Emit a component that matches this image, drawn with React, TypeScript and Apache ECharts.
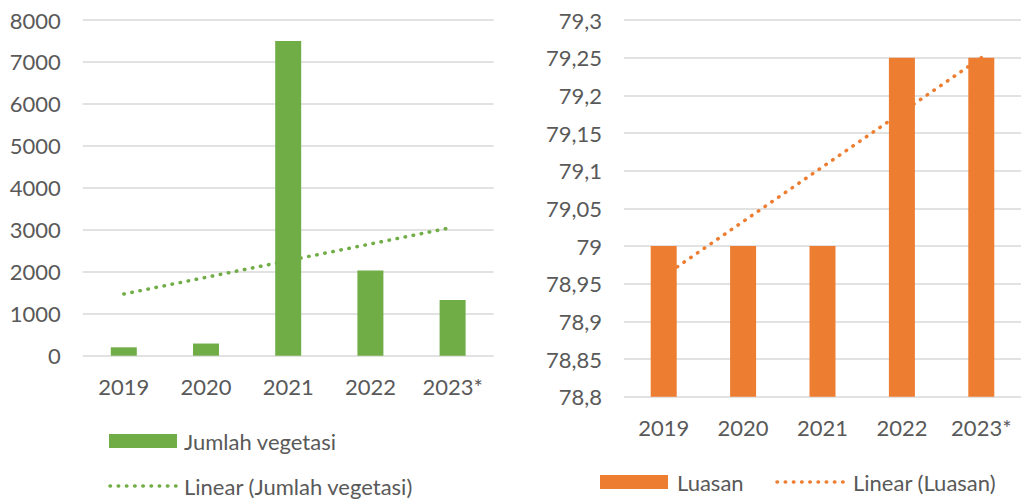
import React, { useEffect, useRef } from "react";
import * as echarts from "echarts";

const categories = ["2019", "2020", "2021", "2022", "2023*"];
const vegetasi = [200, 290, 7500, 2030, 1330];
const vegetasiTrend = [1470, null, null, null, 3060];
const luasan = [79, 79, 79, 79.25, 79.25];
const luasanTrend = [78.96, null, null, null, 79.25];

const GREEN = "#70ad47";
const ORANGE = "#ed7d31";
const TEXT = "#595959";
const GRID = "#d9d9d9";
const FONT = "Lato";
const FS = 22;

export default function App() {
  const ref = useRef<HTMLDivElement>(null);
  useEffect(() => {
    if (!ref.current) return;
    const chart = echarts.init(ref.current, null, { renderer: "svg" });
    const commonX = {
      type: "category",
      data: categories,
      axisLine: { show: false },
      axisTick: { show: false },
      axisLabel: { color: TEXT, fontFamily: FONT, fontSize: FS, margin: 20 },
    };
    const commonY = {
      type: "value",
      axisLine: { show: false },
      axisTick: { show: false },
      splitLine: { lineStyle: { color: GRID, width: 1.5 } },
    };
    chart.setOption({
      animation: false,
      grid: [
        { left: 82.7, right: 527.3, top: 20, bottom: 143.3 },
        { left: 624, right: 0, top: 20, bottom: 102.3 },
      ],
      xAxis: [
        { ...commonX, gridIndex: 0 },
        { ...commonX, gridIndex: 1 },
      ],
      yAxis: [
        {
          ...commonY,
          gridIndex: 0,
          min: 0,
          max: 8000,
          interval: 1000,
          axisLabel: {
            color: TEXT,
            fontFamily: FONT,
            fontSize: FS,
            margin: 22,
            formatter: (v: number) => String(v),
          },
        },
        {
          ...commonY,
          gridIndex: 1,
          min: 78.8,
          max: 79.3,
          interval: 0.05,
          axisLabel: {
            color: TEXT,
            fontFamily: FONT,
            fontSize: FS,
            margin: 22,
            formatter: (v: number) => String(Number(v.toFixed(2))).replace(".", ","),
          },
        },
      ],
      series: [
        {
          name: "Linear (Jumlah vegetasi)",
          type: "line",
          xAxisIndex: 0,
          yAxisIndex: 0,
          data: vegetasiTrend,
          connectNulls: true,
          symbol: "none",
          z: 1,
          lineStyle: { color: GREEN, width: 3.5, type: [0.5, 7.7], cap: "round" },
        },
        {
          name: "Jumlah vegetasi",
          type: "bar",
          xAxisIndex: 0,
          yAxisIndex: 0,
          data: vegetasi,
          barWidth: 26,
          z: 2,
          itemStyle: { color: GREEN },
        },
        {
          name: "Linear (Luasan)",
          type: "line",
          xAxisIndex: 1,
          yAxisIndex: 1,
          data: luasanTrend,
          connectNulls: true,
          symbol: "none",
          z: 1,
          lineStyle: { color: ORANGE, width: 3.5, type: [0.5, 7.7], cap: "round" },
        },
        {
          name: "Luasan",
          type: "bar",
          xAxisIndex: 1,
          yAxisIndex: 1,
          data: luasan,
          barWidth: 26,
          z: 2,
          itemStyle: { color: ORANGE },
        },
      ],
      graphic: [
        { type: "rect", shape: { x: 109, y: 434, width: 68, height: 14 }, style: { fill: GREEN } },
        {
          type: "text",
          x: 184,
          y: 441,
          style: { text: "Jumlah vegetasi", fill: TEXT, font: `${FS}px ${FONT}`, textVerticalAlign: "middle" },
        },
        {
          type: "line",
          shape: { x1: 110, y1: 486, x2: 176, y2: 486 },
          style: { stroke: GREEN, lineWidth: 3.5, lineDash: [0.5, 7.7], lineCap: "round" },
        },
        {
          type: "text",
          x: 184,
          y: 486,
          style: { text: "Linear (Jumlah vegetasi)", fill: TEXT, font: `${FS}px ${FONT}`, textVerticalAlign: "middle" },
        },
        { type: "rect", shape: { x: 600, y: 475, width: 68, height: 14 }, style: { fill: ORANGE } },
        {
          type: "text",
          x: 677,
          y: 482,
          style: { text: "Luasan", fill: TEXT, font: `${FS}px ${FONT}`, textVerticalAlign: "middle" },
        },
        {
          type: "line",
          shape: { x1: 777, y1: 482, x2: 845, y2: 482 },
          style: { stroke: ORANGE, lineWidth: 3.5, lineDash: [0.5, 7.7], lineCap: "round" },
        },
        {
          type: "text",
          x: 853,
          y: 482,
          style: { text: "Linear (Luasan)", fill: TEXT, font: `${FS}px ${FONT}`, textVerticalAlign: "middle" },
        },
      ],
    });
    return () => chart.dispose();
  }, []);
  return (
    <div
      ref={ref}
      style={{ position: "fixed", left: 0, top: 0, width: 1021, height: 499, background: "#fff" }}
    />
  );
}
